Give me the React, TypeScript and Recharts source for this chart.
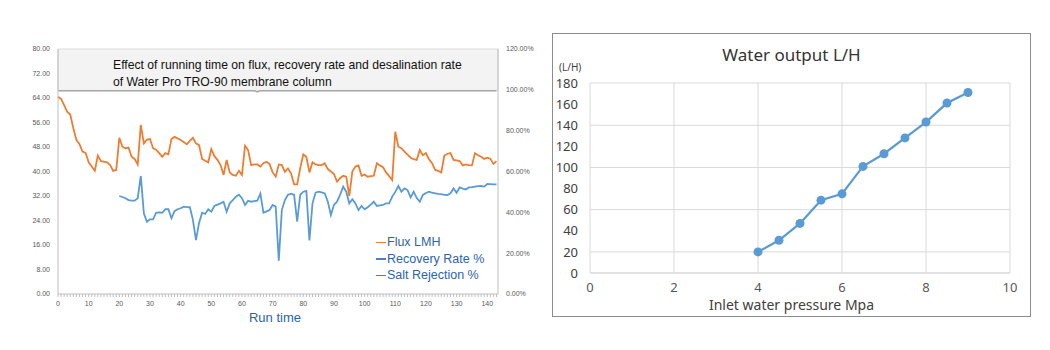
import {
    LineChart,
    Line,
    XAxis,
    YAxis,
    CartesianGrid,
    ReferenceArea,
} from 'recharts';

// left chart: run time index 0..143
const runTime = Array.from({ length: 144 }, (_, i) => i);

const fluxLMH = [
    64.4, 63.7, 61.7, 59.5, 58.6, 54.1, 50.3, 48.9, 46.5, 46.1,
    43, 41.6, 40.2, 45.2, 43.4, 43.2, 43, 42.1, 40.2, 40.5,
    51, 48.1, 47.6, 47.8, 44.8, 44.1, 42.3, 55.2, 49.2, 50.4,
    50.6, 47.6, 47.1, 46, 44.8, 46, 45.6, 50.6, 51.3, 50.8,
    50.3, 49.6, 48.9, 50, 51, 49.2, 48.6, 44.1, 43.5, 43,
    47.3, 45, 43.8, 42.1, 38.9, 43.8, 39.7, 38.9, 38.6, 40.2,
    38.9, 48.4, 47, 42.1, 42.3, 42.3, 41.6, 42.7, 43.2, 42.4,
    39.7, 38.3, 42.3, 42.1, 39.9, 41, 39.4, 35.8, 35.8, 41.1,
    45.6, 44.8, 39.7, 43, 42.3, 42.1, 42.1, 42.7, 40.8, 40,
    39.2, 36.7, 37.8, 38.6, 38.3, 32, 40, 41.6, 42, 38.6,
    39, 38.3, 38.5, 38.6, 42.7, 42, 41.4, 39.7, 38.5, 37.2,
    53, 48.1, 47.6, 46.5, 45.5, 44.5, 44, 43.8, 47, 45.3,
    46, 44, 42.7, 40.5, 40.2, 39.7, 45.2, 45.8, 46, 43.8,
    43.6, 43.4, 42, 42.3, 42.1, 42, 46, 45.3, 44.8, 44.1,
    44.5, 44.2, 42.5, 43.4,
];

// recovery rate starts at run time 20
const recoveryStart = 20;
const recoveryRate = [
    48, 47.5, 46.9, 46, 45.7, 45.7, 46.9, 57.8, 39.5, 35.4,
    36.6, 36.6, 39.8, 40, 39.8, 41.5, 41.5, 37.1, 40.6, 41.5,
    42, 42.8, 42.6, 42.5, 36.3, 26.4, 34.8, 39.8, 39.2, 41.5,
    40.3, 43.1, 43.8, 44.4, 45.2, 40.3, 44.4, 46, 47.7, 48.6,
    46.9, 43.6, 45.7, 45.2, 45.5, 45.7, 49.1, 39.8, 40.5, 41.1,
    43.6, 42.8, 16.3, 41.1, 46, 48.6, 49.1, 48.6, 35.4, 48.6,
    50.1, 50.5, 26.2, 44.4, 49.6, 50.1, 49.8, 49.3, 45.2, 38.7,
    43.6, 45.2, 48.5, 52.6, 50.1, 44.4, 46.4, 44.4, 41.1, 43.1,
    41.5, 42.5, 43.8, 45.2, 43.1, 43.4, 43.6, 44.4, 44.4, 47.7,
    50, 52.9, 50.1, 51.7, 50.9, 47.3, 50.1, 47, 45.2, 48.5,
    49.5, 50.1, 49.6, 49.3, 49, 48.9, 48.6, 48.5, 49.3, 51.7,
    49.6, 52.2, 51.6, 51.2, 52.2, 52.3, 52.6, 52.8, 52.9, 52.6,
    53.9, 53.8, 53.7, 53.7,
];

const saltTime = [0, 64, 65, 66, 143];
const saltRejection = [99.6, 99.6, 99.0, 99.6, 99.6];

const fluxTicks = [0, 8, 16, 24, 32, 40, 48, 56, 64, 72, 80];
const pctTicks = [0, 20, 40, 60, 80, 100, 120];

const legendItems = [
    { name: 'Flux LMH', color: '#ed7d31' },
    { name: 'Recovery Rate %', color: '#4a7fc4' },
    { name: 'Salt Rejection %', color: '#4a7fc4' },
];

// right chart
const pressure = [4, 4.5, 5, 5.5, 6, 6.5, 7, 7.5, 8, 8.5, 9];
const waterOutput = [20, 31, 47, 69, 75, 101, 113, 128, 143, 161, 171];
const pressureTicks = [0, 2, 4, 6, 8, 10];
const outputTicks = [0, 20, 40, 60, 80, 100, 120, 140, 160, 180];

const runData = runTime.map((t, i) => ({
    t,
    flux: fluxLMH[i],
    recovery: i >= recoveryStart ? recoveryRate[i - recoveryStart] : null,
}));
const saltData = saltTime.map((t, i) => ({ t, salt: saltRejection[i] }));
const outputData = pressure.map((p, i) => ({ p, out: waterOutput[i] }));

function RunTick({ x, y, payload }: any) {
    const v = payload.value;
    return (
        <g>
            <line x1={x} y1={y} x2={x} y2={y + 3} stroke="#bfbfbf" strokeWidth={1} />
            {v % 10 === 0 && (
                <text x={x} y={y + 12} textAnchor="middle" fontSize={7} fill="#595959">
                    {v}
                </text>
            )}
        </g>
    );
}

export default function App() {
    return (
        <div style={{ position: 'absolute', left: 0, top: 0, width: 1050, height: 350, background: '#fff' }}>
            <div style={{ position: 'absolute', left: 0, top: 0, fontFamily: 'Liberation Sans, Arial' }}>
                <LineChart
                    width={540}
                    height={340}
                    data={runData}
                    margin={{ top: 49, right: 2, bottom: 26, left: 18 }}
                >
                    <ReferenceArea yAxisId="right" y1={99.6} y2={120} fill="#f3f3f3" fillOpacity={1} stroke="#dcdcdc" />
                    <XAxis
                        dataKey="t"
                        type="number"
                        domain={[0, 143.5]}
                        ticks={runTime}
                        interval={0}
                        tick={<RunTick />}
                        tickLine={false}
                        tickSize={0}
                        tickMargin={0}
                        height={20}
                        stroke="#bfbfbf"
                    />
                    <YAxis
                        yAxisId="left"
                        domain={[0, 80]}
                        ticks={fluxTicks}
                        tickFormatter={(v) => v.toFixed(2)}
                        width={40}
                        tickLine={false}
                        stroke="#bfbfbf"
                        tick={{ fontSize: 7, fill: '#595959' }}
                    />
                    <YAxis
                        yAxisId="right"
                        orientation="right"
                        domain={[0, 120]}
                        ticks={pctTicks}
                        tickFormatter={(v) => v.toFixed(2) + '%'}
                        width={40}
                        tickLine={false}
                        stroke="#bfbfbf"
                        tick={{ fontSize: 7, fill: '#595959' }}
                    />
                    <Line
                        yAxisId="right"
                        data={saltData}
                        dataKey="salt"
                        stroke="#a6a6a6"
                        strokeWidth={1.5}
                        dot={false}
                        isAnimationActive={false}
                    />
                    <Line
                        yAxisId="left"
                        dataKey="flux"
                        stroke="#ed7d31"
                        strokeWidth={1.8}
                        dot={false}
                        isAnimationActive={false}
                    />
                    <Line
                        yAxisId="right"
                        dataKey="recovery"
                        stroke="#5b9bd5"
                        strokeWidth={1.8}
                        dot={false}
                        isAnimationActive={false}
                    />
                </LineChart>
                <div
                    style={{
                        position: 'absolute',
                        left: 113,
                        top: 57,
                        fontSize: 12.2,
                        lineHeight: '17px',
                        color: '#111',
                        whiteSpace: 'nowrap',
                    }}
                >
                    Effect of running time on flux, recovery rate and desalination rate
                    <br />
                    of Water Pro TRO-90 membrane column
                </div>
                <div
                    style={{
                        position: 'absolute',
                        left: 376,
                        top: 234,
                        fontSize: 12.5,
                        color: '#2e62b0',
                    }}
                >
                    {legendItems.map((it) => (
                        <div key={it.name} style={{ display: 'flex', alignItems: 'center', height: 16.5, whiteSpace: 'nowrap' }}>
                            <span style={{ width: 10, height: 1.5, background: it.color, marginRight: 1 }} />
                            <span>{it.name}</span>
                        </div>
                    ))}
                </div>
                <div
                    style={{
                        position: 'absolute',
                        left: 200,
                        width: 150,
                        top: 310,
                        textAlign: 'center',
                        fontSize: 13,
                        color: '#2e62b0',
                    }}
                >
                    Run time
                </div>
            </div>

            <div
                style={{
                    position: 'absolute',
                    left: 552,
                    top: 33,
                    width: 477,
                    height: 282,
                    border: '1px solid #8c8c8c',
                    fontFamily: 'Noto Sans, Open Sans, sans-serif',
                }}
            >
                <div style={{ position: 'absolute', left: 0, width: 477, top: 9, textAlign: 'center', fontSize: 17, color: '#333' }}>
                    Water output L/H
                </div>
                <div style={{ position: 'absolute', left: 6, top: 27, fontSize: 10, lineHeight: '12px', color: '#404040' }}>(L/H)</div>
                <LineChart
                    width={477}
                    height={282}
                    data={outputData}
                    margin={{ top: 49, right: 20, bottom: 18, left: 0 }}
                >
                    <CartesianGrid stroke="#d9d9d9" />
                    <XAxis
                        dataKey="p"
                        type="number"
                        domain={[0, 10]}
                        ticks={pressureTicks}
                        tickLine={false}
                        stroke="#d9d9d9"
                        tickMargin={4}
                        height={25}
                        tick={{ fontSize: 13, fill: '#595959' }}
                    />
                    <YAxis
                        domain={[0, 180]}
                        ticks={outputTicks}
                        axisLine={false}
                        tickLine={false}
                        width={37}
                        tickMargin={6}
                        tick={{ fontSize: 13, fill: '#404040' }}
                    />
                    <Line
                        dataKey="out"
                        stroke="#5b9bd5"
                        strokeWidth={2.25}
                        dot={{ r: 4.5, fill: '#5b9bd5', stroke: '#5b9bd5', strokeWidth: 0 }}
                        isAnimationActive={false}
                    />
                </LineChart>
                <div style={{ position: 'absolute', left: 0, width: 477, top: 262, textAlign: 'center', fontSize: 14, lineHeight: '17px', color: '#404040' }}>
                    Inlet water pressure Mpa
                </div>
            </div>
        </div>
    );
}
